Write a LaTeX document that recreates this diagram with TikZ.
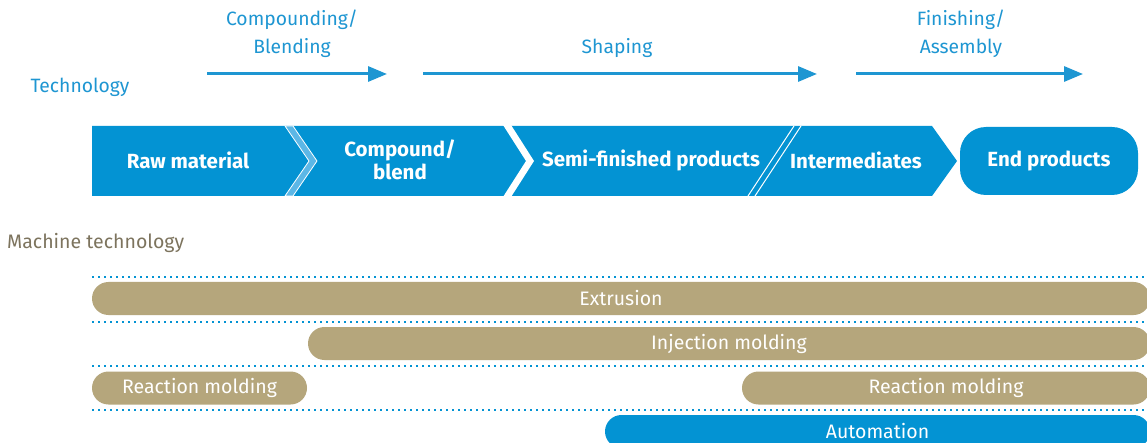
\documentclass[tikz,border=0pt]{standalone}
\usepackage{fontspec}
\setmainfont{Fira Sans}
\usetikzlibrary{arrows.meta}
\definecolor{procblue}{RGB}{3,147,211}
\definecolor{stripeblue}{RGB}{92,183,230}
\definecolor{labelblue}{RGB}{30,150,210}
\definecolor{machtan}{RGB}{181,166,124}
\definecolor{machgray}{RGB}{125,116,94}
\tikzset{
  toplabel/.style={text=labelblue, font=\fontsize{19.3}{28}\selectfont, align=center, inner sep=0pt},
  flow/.style={draw=labelblue, line width=3pt, -{Triangle[length=19pt,width=15pt]}},
  stagetext/.style={text=white, font=\fontsize{20.5}{23.5}\selectfont\bfseries, align=center, inner sep=0pt},
  endbox/.style={fill=procblue, rounded corners=26pt, minimum width=178pt, minimum height=68pt, text=white, font=\fontsize{20.5}{23.5}\selectfont\bfseries},
  dotline/.style={draw=procblue, line width=1.8pt, dash pattern=on 1.8pt off 4.2pt},
  bar/.style={fill=machtan, rounded corners=16.5pt, minimum height=33pt, inner sep=0pt, text=white, font=\fontsize{19.5}{22}\selectfont},
  autobar/.style={bar, fill=procblue}
}
\begin{document}
\begin{tikzpicture}[x=1pt,y=-1pt]
\clip (0,0) rectangle (1147,443);
\fill[white] (0,0) rectangle (1147,443);

% technology steps above the process chain
\node[toplabel] (tech) at (80,87) {Technology};
\node[toplabel] (comp) at (292,34) {Compounding/\\Blending};
\node[toplabel] (shap) at (617,48) {Shaping};
\node[toplabel] (fini) at (961,34) {Finishing/\\Assembly};

\coordinate (a1s) at (207,74);
\coordinate (a1e) at (387,74);
\coordinate (a2s) at (423,74);
\coordinate (a2e) at (817,74);
\coordinate (a3s) at (856,74);
\coordinate (a3e) at (1083,74);
\draw[flow] (a1s) -- (a1e);
\draw[flow] (a2s) -- (a2e);
\draw[flow] (a3s) -- (a3e);

% process chain banner
\fill[procblue] (92,126) -- (932,126) -- (957,161) -- (932,196) -- (92,196) -- cycle;
\filldraw[fill=stripeblue, draw=white, line width=0.8pt]
  (285,126) -- (309,161) -- (285,196) -- (293,196) -- (317,161) -- (293,126) -- cycle;
\fill[white] (503,125) -- (526,161) -- (503,197) -- (511,197) -- (534,161) -- (511,125) -- cycle;
\draw[white, line width=1pt] (748,196) -- (794,126);
\draw[white, line width=1pt] (755,196) -- (801,126);

\node[stagetext] (raw) at (188,160) {Raw material};
\node[stagetext] (cmpd) at (400,160) {Compound/\\blend};
\node[stagetext] (semi) at (651,160) {Semi-finished products};
\node[stagetext] (inter) at (856,160) {Intermediates};
\node[endbox] (endp) at (1049,161) {End products};

% machine technology
\node[anchor=west, inner sep=0pt, text=machgray, font=\fontsize{19.5}{22}\selectfont] (mach) at (7,243) {Machine technology};

\foreach \yy in {277,322,366,410}
  \draw[dotline] (92,\yy) -- (1147,\yy);

\node[bar, minimum width=1058pt] (extr) at (621,298.5) {Extrusion};
\node[bar, minimum width=842pt] (inj) at (729,343.5) {Injection molding};
\node[bar, minimum width=215pt] (reac1) at (199.5,388) {Reaction molding};
\node[bar, minimum width=408pt] (reac2) at (946,388) {Reaction molding};
\node[autobar, minimum width=545pt] (auto) at (877.5,431.5) {Automation};
\end{tikzpicture}
\end{document}
